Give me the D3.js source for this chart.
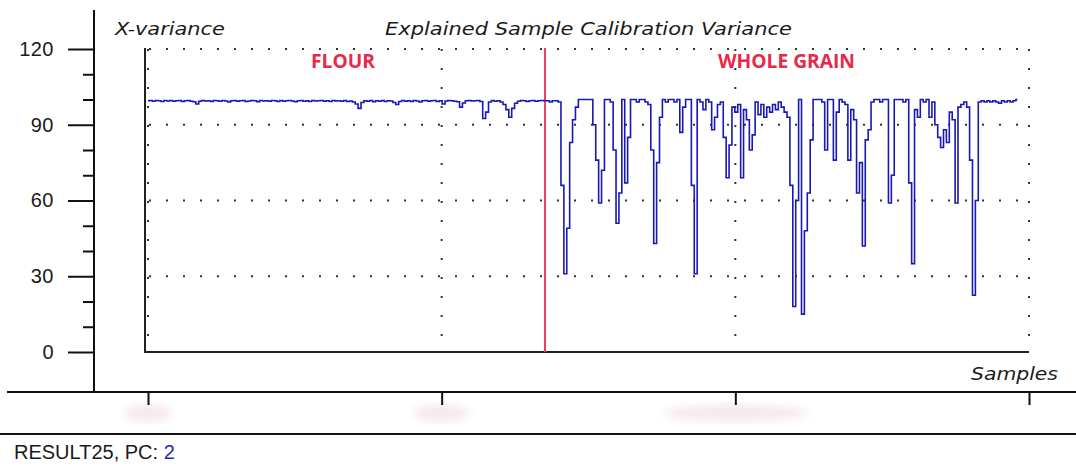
<!DOCTYPE html>
<html>
<head>
<meta charset="utf-8">
<script src="https://cdn.jsdelivr.net/npm/d3@7"></script>
<style>
  body { margin: 0; background: #fff; }
  svg { display: block; }
</style>
</head>
<body>
<div id="chartDiv"></div>
<script>
// explained calibration variance per sample (%)
var flour = [
  99.5,99.6,99.3,99.6,99.5,99.2,99.6,99.4,99.6,99.3,
  99.5,99.6,99.2,99.5,99.6,99.3,99.1,98.2,99.3,99.6,
  99.4,99.5,99.2,99.6,99.5,99.3,99.6,99.4,99.0,99.5,
  99.6,99.3,99.5,99.6,99.2,99.4,99.6,99.5,99.1,99.6,
  99.4,99.5,99.3,99.6,99.5,99.2,99.6,99.3,99.5,99.6,
  99.4,99.1,99.5,99.6,99.3,99.5,99.2,99.6,99.4,99.5,
  99.6,99.3,99.5,99.2,99.6,99.4,99.5,99.3,99.6,99.2,
  99.4,99.0,98.2,96.5,98.8,99.5,99.3,99.6,99.1,99.5,
  99.3,99.6,99.2,99.5,99.4,98.8,98.0,99.2,99.6,99.3,
  99.5,99.2,99.6,99.4,99.0,99.5,99.6,99.3,99.5,99.6,
  99.2,99.5,98.2,99.4,99.6,99.5,99.3,99.1,97.0,98.6,
  99.5,99.6,99.4,99.5,99.6,99.2,92.5,95.0,99.0,99.6,
  99.3,99.5,99.0,98.0,96.0,93.0,96.5,98.5,99.3,99.6,
  99.5,99.2,99.5,99.6,99.3,99.5,99.6
];
var wholeGrain = [
  99.5,99.5,99,99.5,99.5,99, 66,31,49,83, 92,97,100,100,100,100,100,
  90,76,59,72, 100,100,99, 80,51,63, 100, 67,85,
  100,100,99,100,100,99,98, 80,43,75,93, 100,99,100,100,99,100,
  87,97, 100,100, 66,31, 100,99,96,100,99, 88,93,98,99,
  85,69,82, 97,95,98, 69, 96,92, 80,86,
  99,94,98,93,97,95,98,96,99,97,95,93,
  66,18,60,100,15,48,63,84, 100,100,100,99, 80, 100,100, 76,95,
  100,99,98, 76, 96,92, 63,75,42,84,88, 99,100,100,99,100,100,
  59,70, 100,100,100,99,100, 67,35, 96,93, 100,99,100, 93,99,
  90,85,81,88,83,95,92, 59, 97,98,99,97, 76,22.5,60, 99,
  99.5,99,99.5,99,99.5,99,98.5,99.5,99,99.5,99,99.5,100
];
var yTicks = [0, 30, 60, 90, 120];
var yMinor = [10, 20, 40, 50, 70, 80, 100, 110];
var xMax = 304;
var xTicks = [0, xMax / 3, 2 * xMax / 3, xMax];
var groupLabels = ["FLOUR", "WHOLE GRAIN"];

var W = 1076, H = 466;
var plot = {left: 148, right: 1029, top: 49, bottom: 352};

var svg = d3.select("#chartDiv")
  .append("svg")
    .attr("width", W)
    .attr("height", H);

var defs = svg.append("defs");
defs.append("filter").attr("id", "blur")
  .append("feGaussianBlur").attr("stdDeviation", 4);

var values = flour.concat(wholeGrain);

var x = d3.scaleLinear().domain([0, xMax]).range([plot.left, plot.right]);
var y = d3.scaleLinear().domain([0, 120]).range([plot.bottom, plot.top]);

// washed out tick labels under the x axis
var blobs = [[x(xTicks[0]), 24], [x(xTicks[1]), 28], [x(xTicks[2]), 72]];
svg.selectAll("ellipse.blob")
  .data(blobs)
  .enter()
  .append("ellipse")
    .attr("cx", function(d){ return d[0]; })
    .attr("cy", 413)
    .attr("rx", function(d){ return d[1]; })
    .attr("ry", 9)
    .attr("fill", "#f7e9ec")
    .attr("filter", "url(#blur)");

// dotted grid
svg.selectAll("line.hgrid")
  .data(yTicks.slice(1))
  .enter()
  .append("line")
    .attr("x1", plot.left + 1).attr("x2", plot.right + 2)
    .attr("y1", function(d){ return y(d); })
    .attr("y2", function(d){ return y(d); })
    .attr("stroke", "#333")
    .attr("stroke-width", 2)
    .attr("stroke-dasharray", "2 15");

svg.selectAll("line.vgrid")
  .data(xTicks)
  .enter()
  .append("line")
    .attr("x1", function(d){ return x(d); })
    .attr("x2", function(d){ return x(d); })
    .attr("y1", plot.top).attr("y2", plot.bottom)
    .attr("stroke", "#333")
    .attr("stroke-width", 2)
    .attr("stroke-dasharray", "2 17");

// outer frame lines
svg.append("line")
  .attr("x1", 94).attr("x2", 94).attr("y1", 10).attr("y2", 392)
  .attr("stroke", "#111").attr("stroke-width", 2);
svg.append("line")
  .attr("x1", 7).attr("x2", W).attr("y1", 392).attr("y2", 392)
  .attr("stroke", "#111").attr("stroke-width", 2);
svg.append("line")
  .attr("x1", 0).attr("x2", W).attr("y1", 434).attr("y2", 434)
  .attr("stroke", "#111").attr("stroke-width", 2);

// y axis on the outer line
var yAxis = svg.append("g")
  .attr("transform", "translate(94,0)")
  .call(d3.axisLeft(y).tickValues(yTicks).tickSize(26).tickPadding(14));
yAxis.select(".domain").remove();
yAxis.selectAll("line").attr("stroke", "#111").attr("stroke-width", 2);
yAxis.selectAll("text")
  .style("font-family", "'Liberation Sans', Arial, sans-serif")
  .style("font-size", "20px")
  .style("letter-spacing", "0.5px")
  .attr("fill", "#1a1a1a");

var yAxisMinor = svg.append("g")
  .attr("transform", "translate(94,0)")
  .call(d3.axisLeft(y).tickValues(yMinor).tickSize(11).tickFormat(""));
yAxisMinor.select(".domain").remove();
yAxisMinor.selectAll("line").attr("stroke", "#111").attr("stroke-width", 2);

// x axis ticks (labels were erased in the source)
var xAxis = svg.append("g")
  .attr("transform", "translate(0,392)")
  .call(d3.axisBottom(x).tickValues(xTicks).tickSize(13).tickFormat(""));
xAxis.select(".domain").remove();
xAxis.selectAll("line").attr("stroke", "#111").attr("stroke-width", 2);

// inner plot frame
svg.append("path")
  .attr("d", "M" + (plot.left - 3) + "," + (plot.top - 1) + "V" + plot.bottom + "H" + plot.right)
  .attr("fill", "none")
  .attr("stroke", "#222")
  .attr("stroke-width", 2);

// split between the two sample groups
svg.append("line")
  .attr("x1", x(flour.length)).attr("x2", x(flour.length))
  .attr("y1", plot.top - 1).attr("y2", plot.bottom)
  .attr("stroke", "#e8415a")
  .attr("stroke-width", 2);

// variance line
var line = d3.line()
  .x(function(d, i){ return x(i); })
  .y(function(d){ return y(d); })
  .curve(d3.curveStep);

svg.append("path")
  .datum(values)
  .attr("d", line)
  .attr("fill", "none")
  .attr("stroke", "#1818b4")
  .attr("stroke-width", 1.6);

// texts
var italic = "'DejaVu Sans', Verdana, sans-serif";
svg.append("text")
  .attr("x", 115).attr("y", 35)
  .attr("textLength", 110).attr("lengthAdjust", "spacingAndGlyphs")
  .style("font-family", italic).style("font-style", "italic").style("font-size", "17px")
  .attr("fill", "#1a1a1a")
  .text("X-variance");

svg.append("text")
  .attr("x", 385).attr("y", 35)
  .attr("textLength", 407).attr("lengthAdjust", "spacingAndGlyphs")
  .style("font-family", italic).style("font-style", "italic").style("font-size", "17px")
  .attr("fill", "#1a1a1a")
  .text("Explained Sample Calibration Variance");

svg.append("text")
  .attr("x", 971).attr("y", 380)
  .attr("textLength", 87).attr("lengthAdjust", "spacingAndGlyphs")
  .style("font-family", italic).style("font-style", "italic").style("font-size", "17px")
  .attr("fill", "#1a1a1a")
  .text("Samples");

var groupX = [[311, 64], [718, 137]];
svg.selectAll("text.group")
  .data(groupLabels)
  .enter()
  .append("text")
    .attr("x", function(d, i){ return groupX[i][0]; })
    .attr("y", 68)
    .attr("textLength", function(d, i){ return groupX[i][1]; })
    .attr("lengthAdjust", "spacingAndGlyphs")
    .style("font-family", "'Open Sans', sans-serif")
    .style("font-weight", "bold")
    .style("font-size", "20px")
    .attr("fill", "#e8294a")
    .text(function(d){ return d; });

var footer = svg.append("text")
  .attr("x", 14).attr("y", 459)
  .style("font-family", "'Liberation Sans', Arial, sans-serif")
  .style("font-size", "20px")
  .attr("fill", "#1a1a1a");
footer.append("tspan").text("RESULT25, PC: ");
footer.append("tspan").attr("fill", "#2a2ab0").text("2");
</script>
</body>
</html>
